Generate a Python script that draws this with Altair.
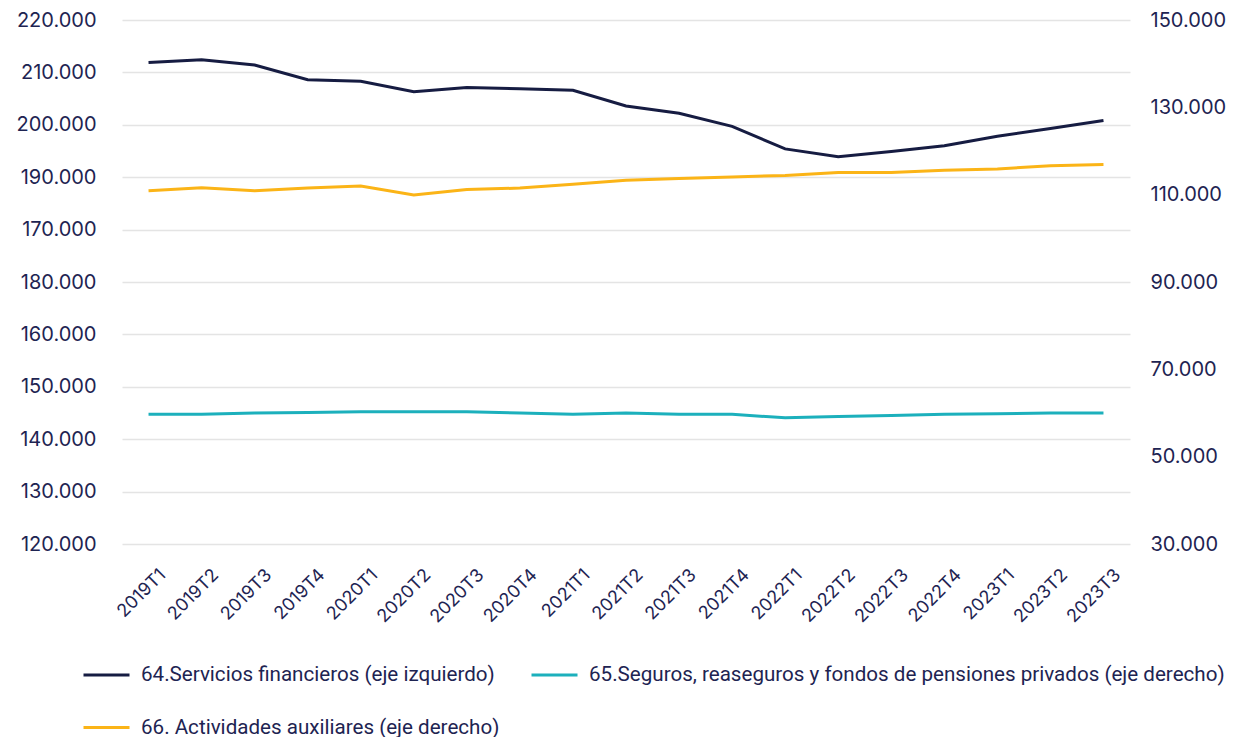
import altair as alt
import pandas as pd

periods = ["2019T1","2019T2","2019T3","2019T4","2020T1","2020T2","2020T3","2020T4",
           "2021T1","2021T2","2021T3","2021T4","2022T1","2022T2","2022T3","2022T4",
           "2023T1","2023T2","2023T3"]

s64 = [211900, 212400, 211400, 208600, 208300, 206300, 207100, 206900, 206600, 203600,
       202200, 199700, 195400, 193900, 194900, 196000, 197800, 199300, 200800]
s65 = [59700, 59700, 60000, 60100, 60300, 60300, 60300, 60000, 59700, 60000,
       59700, 59700, 58900, 59200, 59400, 59700, 59800, 60000, 60000]
s66 = [110900, 111600, 110900, 111500, 112000, 109900, 111200, 111500, 112400, 113300,
       113700, 114050, 114400, 115050, 115100, 115600, 115900, 116600, 116900]

names = ["64.Servicios financieros (eje izquierdo)",
         "65.Seguros, reaseguros y fondos de pensiones privados (eje derecho)",
         "66. Actividades auxiliares (eje derecho)"]
colors = ["#161c42", "#1cb0bc", "#fbb417"]

left_ticks = [120000, 130000, 140000, 150000, 160000, 170000, 180000, 190000, 200000, 210000, 220000]
right_ticks = [30000, 50000, 70000, 90000, 110000, 130000, 150000]

rows = []
for name, vals in zip(names, [s64, s65, s66]):
    for p, v in zip(periods, vals):
        rows.append({"periodo": p, "serie": name, "valor": v})
df = pd.DataFrame(rows)

TXT = "#1e2452"

x_enc = alt.X("periodo:N", sort=periods, title=None,
              scale=alt.Scale(type="point", padding=0.5),
              axis=alt.Axis(labelAngle=-45, labelAlign="right", labelBaseline="middle",
                            labelFont="Inter", labelFontSize=18, labelColor=TXT,
                            labelPadding=28, labelOffset=14, ticks=False, domain=False,
                            grid=False))

color_enc = alt.Color("serie:N", sort=names,
                      scale=alt.Scale(domain=names, range=colors),
                      legend=alt.Legend(title=None, orient="none", legendX=-40, legendY=108 + 522,
                                        direction="horizontal", columns=2,
                                        symbolType="stroke", symbolSize=2116, symbolStrokeWidth=3,
                                        labelFont="Roboto", labelFontSize=20.6, labelColor=TXT,
                                        labelOffset=10, columnPadding=25, rowPadding=17,
                                        labelLimit=900))

left = alt.Chart(df).transform_filter(alt.datum.serie == names[0]).mark_line(strokeWidth=3).encode(
    x=x_enc,
    y=alt.Y("valor:Q", title=None,
            scale=alt.Scale(domain=[120000, 220000], nice=False, zero=False),
            axis=alt.Axis(values=left_ticks, orient="left", domain=False, ticks=False,
                          grid=True, gridColor="#e4e4e4", gridWidth=1.5,
                          labelFont="Inter", labelFontSize=20, labelColor=TXT, labelPadding=26,
                          labelExpr="datum.value == 170000 ? '180.000' : (datum.value == 180000 ? '170.000' : format(datum.value/1000, 'd') + '.000')")),
    color=color_enc,
)

right = alt.Chart(df).transform_filter(alt.datum.serie != names[0]).mark_line(strokeWidth=3).encode(
    x=x_enc,
    y=alt.Y("valor:Q", title=None,
            scale=alt.Scale(domain=[30000, 150000], nice=False, zero=False),
            axis=alt.Axis(values=right_ticks, orient="right", domain=False, ticks=False,
                          grid=False,
                          labelFont="Inter", labelFontSize=20, labelColor=TXT, labelPadding=20,
                          labelExpr="format(datum.value/1000, 'd') + '.000'")),
    color=color_enc,
)

chart = alt.layer(left, right).resolve_scale(y="independent").properties(
    width=1008, height=524,
    background="white",
    autosize=alt.AutoSizeParams(type="none"),
    padding={"left": 114, "top": 12, "right": 116, "bottom": 193},
).configure_view(strokeWidth=0, stroke="transparent")

chart.save("out.html", embed_options={"renderer": "svg", "actions": False})
